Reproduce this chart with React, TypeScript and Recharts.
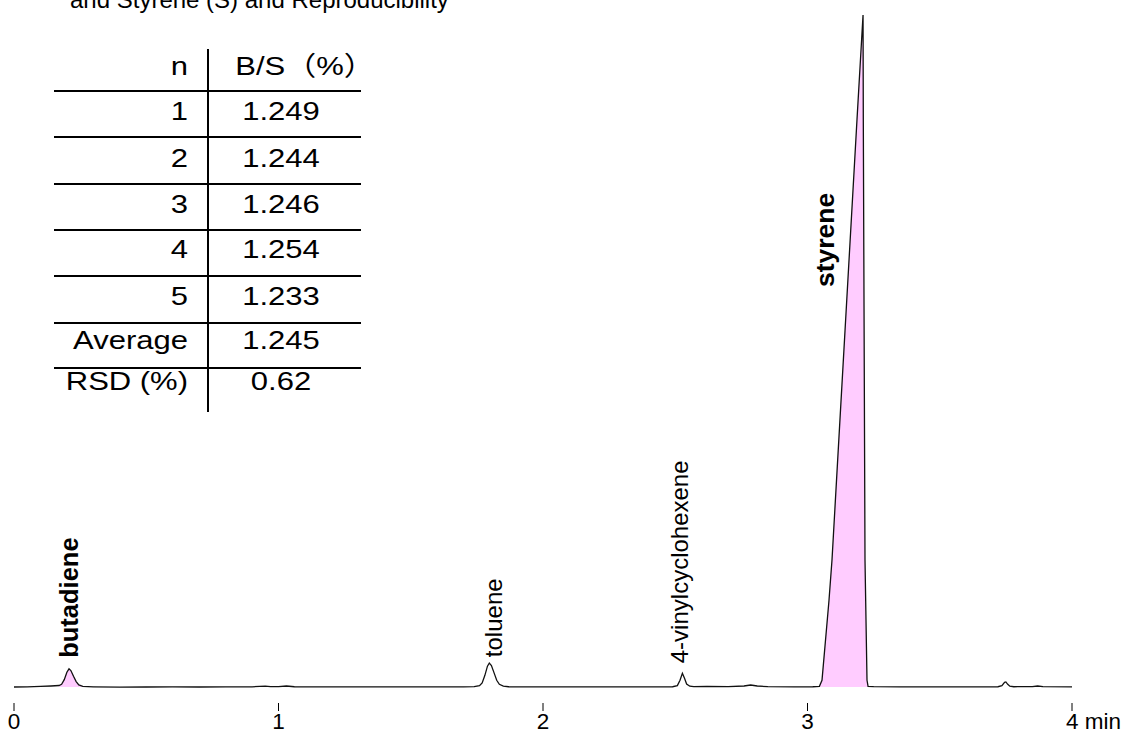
import React from 'react';
import { ComposedChart, Line, Area, XAxis, YAxis, ReferenceDot } from 'recharts';

// chromatogram: retention time (min) and detector signal (relative, styrene apex = 100)
const retentionTimes = [
  0.0, 0.05, 0.1, 0.14, 0.17, 0.18, 0.19, 0.2, 0.208, 0.215, 0.225, 0.235, 0.245, 0.26, 0.3,
  0.4, 0.5, 0.6, 0.7, 0.8, 0.9, 0.95, 0.97, 1.0, 1.03, 1.06, 1.15, 1.3, 1.45, 1.6, 1.7,
  1.74, 1.76, 1.77, 1.78, 1.79, 1.797, 1.805, 1.815, 1.825, 1.835, 1.85, 1.87, 1.95, 2.1,
  2.25, 2.4, 2.49, 2.508, 2.518, 2.527, 2.535, 2.543, 2.555, 2.57, 2.62, 2.7, 2.76, 2.785,
  2.81, 2.85, 2.95, 3.02, 3.045, 3.0548, 3.0813, 3.0926, 3.1418, 3.1871, 3.21, 3.211,
  3.2174, 3.225, 3.229, 3.25, 3.35, 3.5, 3.65, 3.72, 3.735, 3.745, 3.75, 3.757, 3.765,
  3.78, 3.85, 3.87, 3.89, 4.0,
];
const signal = [
  0.0, 0.02, 0.08, 0.15, 0.22, 0.4, 1.1, 2.2, 2.7, 2.45, 1.6, 0.8, 0.3, 0.08, 0.03,
  -0.02, 0.0, 0.01, 0.0, 0.02, 0.03, 0.12, 0.05, 0.06, 0.15, 0.04, 0.02, 0.01, 0.03, 0.02, 0.03,
  0.05, 0.2, 0.6, 1.7, 3.1, 3.55, 3.2, 2.1, 1.0, 0.4, 0.12, 0.04, 0.02, 0.03,
  0.02, 0.03, 0.04, 0.2, 1.0, 2.05, 1.3, 0.45, 0.12, 0.05, 0.08, 0.05, 0.15, 0.3,
  0.15, 0.05, 0.03, 0.04, 0.1, 1.0, 12.9, 18.9, 53.0, 84.4, 100, 84.4,
  18.9, 1.0, 0.1, 0.05, 0.03, 0.02, 0.02, 0.04, 0.2, 0.7, 0.75, 0.4, 0.12,
  0.04, 0.05, 0.15, 0.05, 0.02,
];
// shaded (integrated) peaks: butadiene and styrene
const shadedRanges = [
  [0.17, 0.26],
  [3.045, 3.229],
];

const xTicks = [0, 1, 2, 3, 4];
const xTickLabels = ['0', '1', '2', '3', '4 min'];

const peakNames = ['butadiene', 'toluene', '4-vinylcyclohexene', 'styrene'];
const peakTimes = [0.208, 1.797, 2.527, 3.21];
const peakHeights = [2.7, 3.55, 2.05, 100];
const peakBold = [true, false, false, true];

const tableN = ['n', '1', '2', '3', '4', '5', 'Average', 'RSD (%)'];
const tableBS = ['B/S（%）', '1.249', '1.244', '1.246', '1.254', '1.233', '1.245', '0.62'];

const titleLine = 'and Styrene (S) and Reproducibility';

// layout only
const labelOffsets = [
  [9, -11],
  [12.7, -6],
  [5.6, -10],
  [-29, 272],
];
const labelSizes = [25.5, 24, 24, 26.5];
const rowBaselines = [75, 120, 167, 213, 258, 305, 349, 390];
const ruleYs = [91, 137, 184, 230, 276, 323, 368];

const FONT = '"Liberation Sans", Arial, "Noto Sans CJK JP", sans-serif';
const PINK = '#ffccff';

const data = retentionTimes.map((t, i) => {
  const inShade = shadedRanges.some(([a, b]) => t >= a && t <= b);
  return { t, signal: signal[i], shade: inShade ? signal[i] : null };
});

const XTick = (props: any) => {
  const { x, y, payload } = props;
  const idx = xTicks.indexOf(payload.value);
  const label = xTickLabels[idx] ?? String(payload.value);
  const isLast = idx === xTicks.length - 1;
  return (
    <text
      x={isLast ? x - 6 : x}
      y={y + 16}
      textAnchor={isLast ? 'start' : 'middle'}
      fontSize={22.5}
      fontFamily={FONT}
      fill="#000"
    >
      {label}
    </text>
  );
};

const makeLabel = (i: number) => (props: any) => {
  const { cx, cy } = props;
  const x = cx + labelOffsets[i][0];
  const y = cy + labelOffsets[i][1];
  return (
    <text
      transform={`translate(${x},${y}) rotate(-90)`}
      x={0}
      y={0}
      textAnchor="start"
      fontSize={labelSizes[i]}
      fontWeight={peakBold[i] ? 'bold' : 'normal'}
      fontFamily={FONT}
      fill="#000"
    >
      {peakNames[i]}
    </text>
  );
};

const STRETCH = 1.17;
const TABLE_FS = 26.5;

export default function App() {
  return (
    <div style={{ position: 'absolute', left: 0, top: 0, width: 1124, height: 734, background: '#fff' }}>
      <ComposedChart
        width={1124}
        height={734}
        data={data}
        margin={{ top: 15, right: 52, bottom: 0, left: 14 }}
      >
        <XAxis
          type="number"
          dataKey="t"
          domain={[0, 4]}
          ticks={xTicks}
          axisLine={false}
          tickLine={{ stroke: '#000', strokeWidth: 1 }}
          tickSize={8}
          height={31}
          tick={<XTick />}
          interval={0}
        />
        <YAxis type="number" domain={[-2.381, 100]} hide allowDataOverflow />
        <Area
          type="linear"
          dataKey="shade"
          stroke="none"
          fill={PINK}
          fillOpacity={1}
          baseValue={0}
          connectNulls={false}
          isAnimationActive={false}
          dot={false}
          activeDot={false}
        />
        <Line
          type="linear"
          dataKey="signal"
          stroke="#111"
          strokeWidth={1.3}
          dot={false}
          activeDot={false}
          isAnimationActive={false}
        />
        {peakNames.map((n, i) => (
          <ReferenceDot
            key={n}
            x={peakTimes[i]}
            y={peakHeights[i]}
            r={1}
            ifOverflow="visible"
            shape={makeLabel(i)}
          />
        ))}
      </ComposedChart>
      <svg
        width={1124}
        height={734}
        style={{ position: 'absolute', left: 0, top: 0, pointerEvents: 'none' }}
      >
        <text x={70} y={8} fontSize={24} fontFamily={FONT} fill="#000">
          {titleLine}
        </text>
        <line x1={208} x2={208} y1={49} y2={412} stroke="#000" strokeWidth={2} />
        {ruleYs.map((y) => (
          <line key={y} x1={54} x2={361} y1={y} y2={y} stroke="#000" strokeWidth={2} />
        ))}
        {tableN.map((s, i) => (
          <g key={'n' + i} transform={`translate(188,${rowBaselines[i]}) scale(${STRETCH},1)`}>
            <text x={0} y={0} textAnchor="end" fontSize={TABLE_FS} fontFamily={FONT} fill="#000">
              {s}
            </text>
          </g>
        ))}
        {tableBS.map((s, i) => (
          <g key={'b' + i} transform={`translate(${i === 0 ? 305 : 281},${rowBaselines[i]}) scale(${STRETCH},1)`}>
            <text x={0} y={0} textAnchor="middle" fontSize={TABLE_FS} fontFamily={FONT} fill="#000">
              {s}
            </text>
          </g>
        ))}
      </svg>
    </div>
  );
}
